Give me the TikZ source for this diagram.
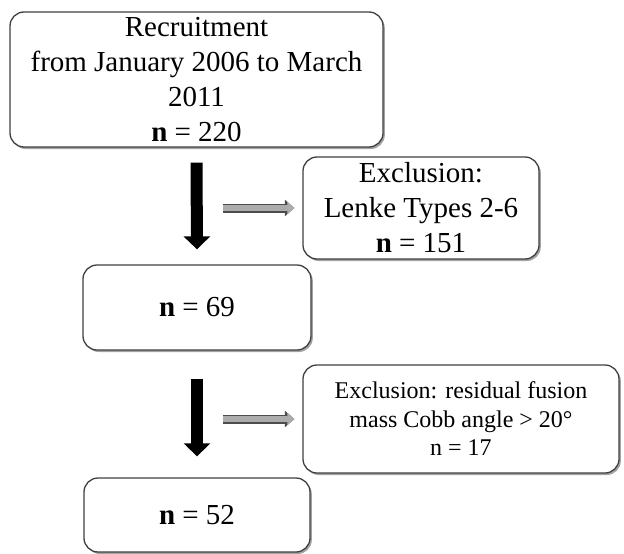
\documentclass[tikz,border=0pt]{standalone}
\usepackage{fontspec}
\setmainfont{Liberation Serif}
\usetikzlibrary{arrows.meta,shadows}
\begin{document}
\begin{tikzpicture}[x=1pt,y=-1pt,
    box/.style={draw=black!75,line width=1.3pt,rounded corners=14pt,fill=white,
        align=center,inner sep=0pt,
        drop shadow={shadow xshift=1.8pt,shadow yshift=-2pt,opacity=0.45,fill=black!80},
        font=\fontsize{29}{35}\selectfont},
    smallbox/.style={box,font=\fontsize{24}{28.5}\selectfont},
    downarrow/.style={line width=12pt,-{Triangle[width=26pt,length=13pt]}},
    sidearrow/.style={line width=6.5pt,gray!65,-{Triangle[width=12pt,length=7pt]},
        preaction={draw=black!70,line width=9pt,-{Triangle[width=16pt,length=9.5pt]}}}]
    \useasboundingbox (0,0) rectangle (624,554);

    \node[box,minimum width=373pt,minimum height=135pt] (recruit) at (196.5,79.5)
        {Recruitment\\from January 2006 to March\\2011\\\textbf{n} = 220};
    \node[box,minimum width=236pt,minimum height=102pt] (lenke) at (421,208)
        {Exclusion:\\Lenke Types 2-6\\\textbf{n} = 151};
    \node[box,minimum width=228pt,minimum height=85pt] (n69) at (197,307.5)
        {\textbf{n} = 69};
    \node[smallbox,minimum width=316pt,minimum height=108pt] (cobb) at (461,419)
        {Exclusion: residual fusion\\mass Cobb angle > 20°\\n = 17};
    \node[box,minimum width=226pt,minimum height=74pt] (n52) at (197,515)
        {\textbf{n} = 52};

    \coordinate (side1) at (223,208);
    \coordinate (side2) at (223,419);

    \draw[downarrow] ([yshift=-15pt]recruit.south) -- ([yshift=15pt]n69.north);
    \draw[downarrow] ([yshift=-28pt]n69.south) -- ([yshift=21pt]n52.north);
    \draw[sidearrow] (side1) -- ([xshift=-8pt]lenke.west);
    \draw[sidearrow] (side2) -- ([xshift=-8pt]cobb.west);
\end{tikzpicture}
\end{document}
